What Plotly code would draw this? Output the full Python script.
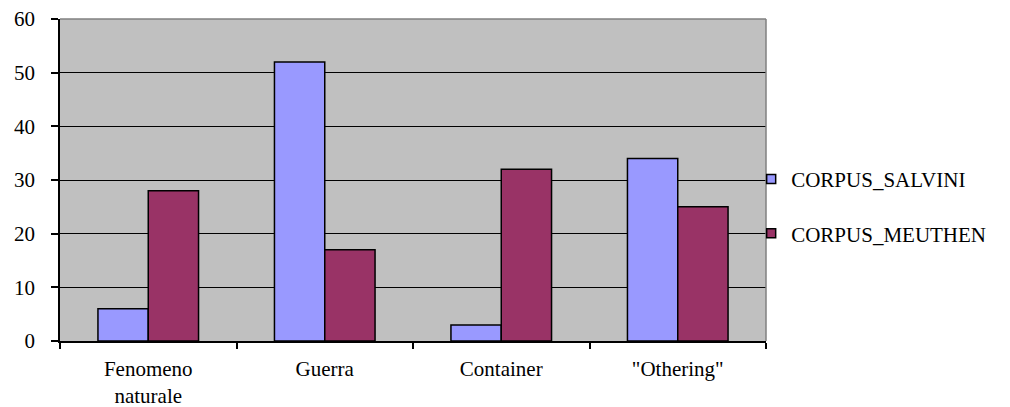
import plotly.graph_objects as go

categories = ["Fenomeno<br>naturale", "Guerra", "Container", "\"Othering\""]
salvini = [6, 52, 3, 34]
meuthen = [28, 17, 32, 25]
series_names = ["CORPUS_SALVINI", "CORPUS_MEUTHEN"]
series_colors = ["#9999FF", "#993366"]
y_ticks = [0, 10, 20, 30, 40, 50, 60]

font = dict(family="'Liberation Serif', 'DejaVu Serif', serif", size=21, color="black")

fig = go.Figure()
for name, vals, col in zip(series_names, [salvini, meuthen], series_colors):
    fig.add_trace(go.Bar(x=categories, y=vals, name=name, showlegend=False,
                         marker=dict(color=col, line=dict(color="black", width=1.5))))
# legend entries (small squares, as in the reference)
for i, (name, col) in enumerate(zip(series_names, series_colors)):
    fig.add_trace(go.Scatter(x=[None], y=[None], mode="markers", name=name,
                             legendgroup=str(i),
                             marker=dict(symbol="square", size=9, color=col,
                                         line=dict(color="black", width=1.5))))

fig.update_layout(
    width=1010, height=407,
    margin=dict(l=60, r=244, t=19, b=66, autoexpand=False),
    plot_bgcolor="#C0C0C0", paper_bgcolor="white",
    font=font,
    barmode="group", bargap=0.43, bargroupgap=0,
    showlegend=True,
    legend=dict(x=0.979, xanchor="left", y=0.418, yanchor="middle", font=font,
                traceorder="grouped", tracegroupgap=24,
                bgcolor="rgba(0,0,0,0)"),
    modebar=dict(bgcolor="rgba(0,0,0,0)", color="rgba(0,0,0,0)",
                 activecolor="rgba(0,0,0,0)"),
    xaxis=dict(showline=True, linecolor="black", linewidth=1.5, ticks="outside",
               tickson="boundaries", ticklen=6, tickcolor="black", tickwidth=1.5,
               showgrid=False, tickfont=font, ticklabelstandoff=8, automargin=False),
    yaxis=dict(range=[0, 60.001], tickvals=y_ticks, showline=True, linecolor="black", linewidth=1.5,
               ticks="outside", ticklen=7, tickcolor="black", tickwidth=1.5,
               showgrid=True, gridcolor="black", gridwidth=1.2, zeroline=False,
               tickfont=font, ticklabelstandoff=12, automargin=False),
    shapes=[
        dict(type="line", xref="paper", yref="paper", x0=0, x1=1, y0=1, y1=1,
             line=dict(color="#808080", width=1.5)),
        dict(type="line", xref="paper", yref="paper", x0=1, x1=1, y0=0, y1=1,
             line=dict(color="#808080", width=1.5)),
    ],
)

post = (
    "document.body.style.margin='0';"
    "var st=document.createElement('style');"
    "st.textContent=\"svg text{font-family:'Liberation Serif','DejaVu Serif',serif !important;}"
    " .modebar-container{display:none !important;}\";"
    "document.head.appendChild(st);"
)

fig.write_html("out.html", config={"displaylogo": False}, post_script=post)
